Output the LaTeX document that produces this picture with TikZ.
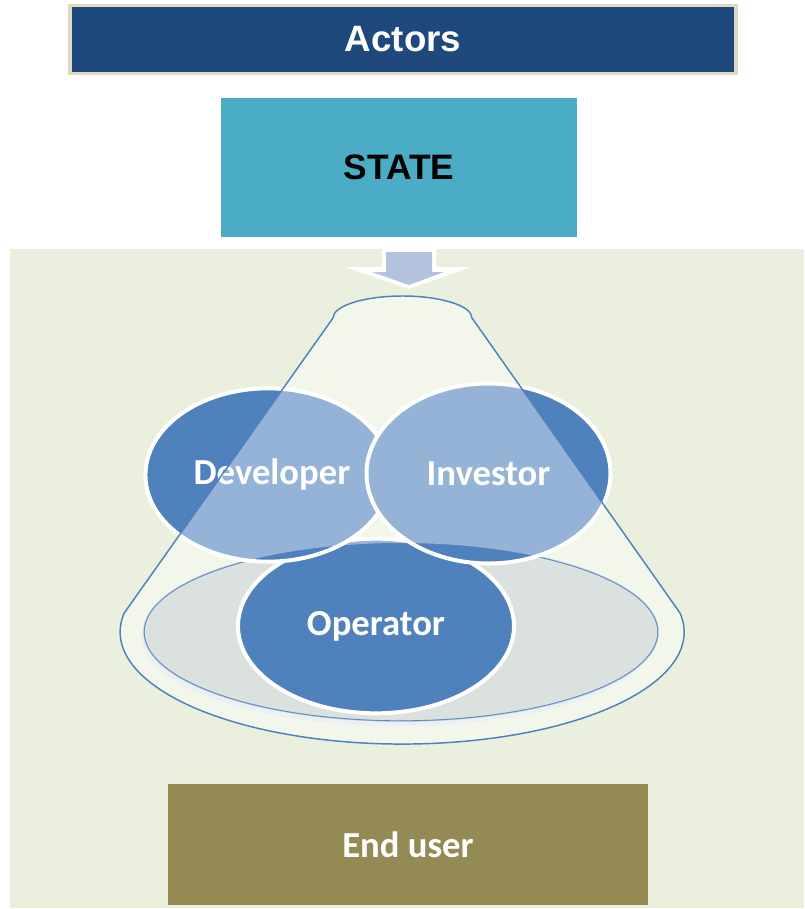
\documentclass[tikz,border=0pt]{standalone}
\usepackage{fontspec}
\usetikzlibrary{shapes.geometric}
\newfontfamily\arialfont{Liberation Sans}
\newfontfamily\calfont{Carlito}
\definecolor{bggreen}{HTML}{EBF0DE}
\definecolor{headblue}{HTML}{1F497D}
\definecolor{headrim}{HTML}{DDD9C3}
\definecolor{stateteal}{HTML}{4BACC6}
\definecolor{userolive}{HTML}{948A54}
\definecolor{actorblue}{HTML}{4F81BD}
\definecolor{arrowblue}{HTML}{B3C3DF}
\definecolor{basegray}{HTML}{DAE1DF}
\definecolor{shadowgray}{HTML}{E2E7EA}
\tikzset{
	header/.style={fill=headblue, draw=headrim, line width=2.4pt, text=white,
		font=\arialfont\bfseries\fontsize{27.5}{32}\selectfont},
	statebox/.style={fill=stateteal, text=black, inner sep=0pt,
		font=\arialfont\bfseries\fontsize{26.5}{31}\selectfont},
	userbox/.style={fill=userolive, text=white, inner sep=0pt,
		font=\calfont\bfseries\fontsize{27.5}{33}\selectfont},
	actor/.style={ellipse, fill=actorblue, draw=white, line width=3pt, inner sep=0pt,
		text=white, font=\calfont\bfseries\fontsize{27.5}{33}\selectfont}
}
\begin{document}
\begin{tikzpicture}[x=0.75pt, y=-0.75pt]
	\useasboundingbox (0,0) rectangle (804,909);
	\fill[white] (0,0) rectangle (804,909);
	\fill[bggreen] (10,249) rectangle (804,908);
	
	%top boxes
	\node[header, minimum width=499.5pt, minimum height=51pt] (actors) at (403,39.5) {Actors};
	\node[statebox, minimum width=267pt, minimum height=104.25pt] (state) at (399,167.5) {STATE};
	
	%down arrow
	\fill[white] (382,249) -- (436,249) -- (436,267) -- (471,267) -- (409,289) -- (345,267) -- (382,267) -- cycle;
	\fill[arrowblue] (386,252) -- (432,252) -- (432,272) -- (444,272) -- (409,285) -- (372,272) -- (386,272) -- cycle;
	
	%funnel base
	\fill[shadowgray] (398,637) ellipse [x radius=257, y radius=89];
	\filldraw[fill=basegray, draw=actorblue, line width=1pt] (401,632) ellipse [x radius=257, y radius=89];
	
	%actors
	\node[actor, minimum width=207pt, minimum height=131pt] (operator) at (376,626) {Operator};
	\node[actor, minimum width=178pt, minimum height=130pt, text width=130pt, align=center] (developer) at (268,475) {\hspace*{6pt}Developer};
	\node[actor, minimum width=183pt, minimum height=135pt] (investor) at (488.5,473.5) {Investor};
	
	%funnel
	\fill[white, fill opacity=0.4, even odd rule]
		(333,318) arc[start angle=180, end angle=360, x radius=69.5, y radius=22]
		-- (680,613) arc[start angle=-9.8, end angle=189.8, x radius=282, y radius=112] -- cycle
		(401,632) ellipse [x radius=257, y radius=89];
	\draw[actorblue, line width=1.1pt, line join=round]
		(333,318) arc[start angle=180, end angle=360, x radius=69.5, y radius=22]
		-- (680,613) arc[start angle=-9.8, end angle=189.8, x radius=282, y radius=112] -- cycle;
	
	%end user
	\node[userbox, minimum width=360pt, minimum height=90.75pt] (enduser) at (408,844.5) {End user};
\end{tikzpicture}
\end{document}
